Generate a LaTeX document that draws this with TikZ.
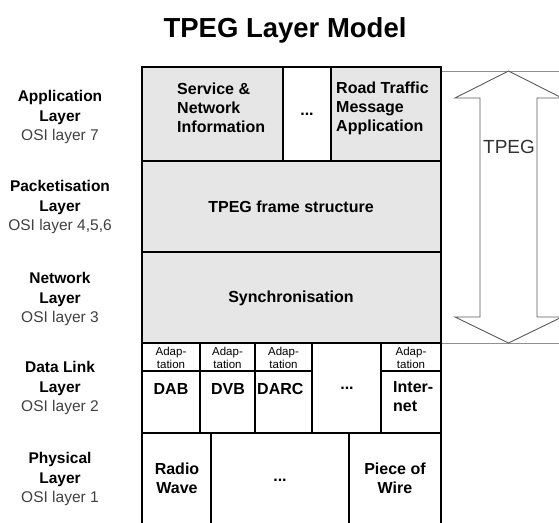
\documentclass[tikz,border=0pt]{standalone}
\usepackage{fontspec}
\setmainfont{Liberation Sans}
\definecolor{lg}{HTML}{E6E6E6}
\definecolor{arrowgray}{HTML}{5A5A5A}
\definecolor{linegray}{HTML}{909090}
\newcommand{\cellbox}[6]{\node[cellst,#6,minimum width={#4-#2},minimum height={#5-#3}] (#1) at ({(#2+#4)/2},{(#3+#5)/2}) {};}
\newcommand{\osi}[1]{\textcolor{black!75}{\mdseries #1}}
\begin{document}
\begin{tikzpicture}[x=1pt,y=-1pt,
  cellst/.style={draw=black,line width=2.6pt,inner sep=0pt,outer sep=0pt,rectangle},
  adst/.style={draw=black,line width=1.1pt,inner sep=0pt,outer sep=0pt,rectangle,fill=white},
  gray cell/.style={fill=lg},
  white cell/.style={fill=white},
  btxt/.style={font=\fontsize{16}{19}\selectfont\bfseries,inner sep=0pt},
  stxt/.style={font=\fontsize{11.5}{13}\selectfont,inner sep=0pt,align=center},
  layerlabel/.style={align=center,inner sep=0pt,font=\fontsize{15.5}{19.5}\selectfont\bfseries},
  arrowst/.style={draw=arrowgray,line width=0.9pt,fill=white},
  guide/.style={draw=linegray,line width=0.8pt}]
\useasboundingbox (0,0) rectangle (559,522);
% title
\node[font=\fontsize{27.5}{30}\selectfont\bfseries,anchor=base,inner sep=0pt] (title) at (285,37) {TPEG Layer Model};
% guide lines and arrow
\coordinate (gtl) at (441,71);
\coordinate (gtr) at (559,71);
\coordinate (gbl) at (441,343);
\coordinate (gbr) at (559,343);
\draw[guide] (gtl) -- (gtr);
\draw[guide] (gbl) -- (gbr);
\draw[arrowst] (508.5,71) -- (562,98) -- (537,98) -- (537,317) -- (562,317) -- (508.5,343)
  -- (455,317) -- (480,317) -- (480,98) -- (455,98) -- cycle;
\node[font=\fontsize{19}{20}\selectfont,text=black!80,inner sep=0pt] (tpeg) at (509,147) {TPEG};
% adaptation sub-cells (thin)
\node[adst,minimum width=58,minimum height=28] (ad1) at (171,357) {};
\node[adst,minimum width=55,minimum height=28] (ad2) at (227.5,357) {};
\node[adst,minimum width=57,minimum height=28] (ad3) at (283.5,357) {};
\node[adst,minimum width=60,minimum height=28] (ad5) at (411,357) {};
% row 1
\cellbox{sni}{142}{67}{283}{161}{gray cell}
\cellbox{dotsA}{283}{67}{331}{161}{white cell}
\cellbox{rtm}{331}{67}{441}{161}{gray cell}
% row 2, 3
\cellbox{frame}{142}{161}{441}{252}{gray cell}
\cellbox{sync}{142}{252}{441}{343}{gray cell}
% row 4
\cellbox{dab}{142}{343}{200}{433}{}
\cellbox{dvb}{200}{343}{255}{433}{}
\cellbox{darc}{255}{343}{312}{433}{}
\cellbox{dotsB}{312}{343}{381}{433}{}
\cellbox{inet}{381}{343}{441}{433}{}
% row 5
\cellbox{radio}{142}{433}{211}{524}{}
\cellbox{dotsC}{211}{433}{349}{524}{}
\cellbox{wire}{349}{433}{441}{524}{}
% cell texts
\node[btxt,align=left,anchor=west] (snit) at (177,108) {Service \&\\Network\\Information};
\node[btxt] (dotsAt) at (307,114) {...};
\node[btxt,align=left,anchor=west] (rtmt) at (336,108) {Road Traffic\\Message\\Application};
\node[btxt] (framet) at (291,207) {TPEG frame structure};
\node[btxt] (synct) at (291,298) {Synchronisation};
\node[stxt] (ad1t) at (171,357.5) {Adap-\\tation};
\node[stxt] (ad2t) at (227.5,357.5) {Adap-\\tation};
\node[stxt] (ad3t) at (283.5,357.5) {Adap-\\tation};
\node[stxt] (ad5t) at (411,357.5) {Adap-\\tation};
\node[btxt] (dabt) at (171,389) {DAB};
\node[btxt] (dvbt) at (228,389) {DVB};
\node[btxt,anchor=west] (darct) at (257,389) {DARC};
\node[btxt] (dotsBt) at (347,388) {...};
\node[btxt,align=left,anchor=west] (inett) at (393,397) {Inter-\\net};
\node[btxt,align=center] (radiot) at (177,478) {Radio\\Wave};
\node[btxt] (dotsCt) at (280,480) {...};
\node[btxt,align=center] (wiret) at (395,478) {Piece of\\Wire};
% layer labels
\node[layerlabel] (l7) at (60,117) {Application\\Layer\\\osi{OSI layer 7}};
\node[layerlabel] (l456) at (60,207) {Packetisation\\Layer\\\osi{OSI layer 4,5,6}};
\node[layerlabel] (l3) at (60,299) {Network\\Layer\\\osi{OSI layer 3}};
\node[layerlabel] (l2) at (60,388) {Data Link\\Layer\\\osi{OSI layer 2}};
\node[layerlabel] (l1) at (60,479) {Physical\\Layer\\\osi{OSI layer 1}};
\end{tikzpicture}
\end{document}
